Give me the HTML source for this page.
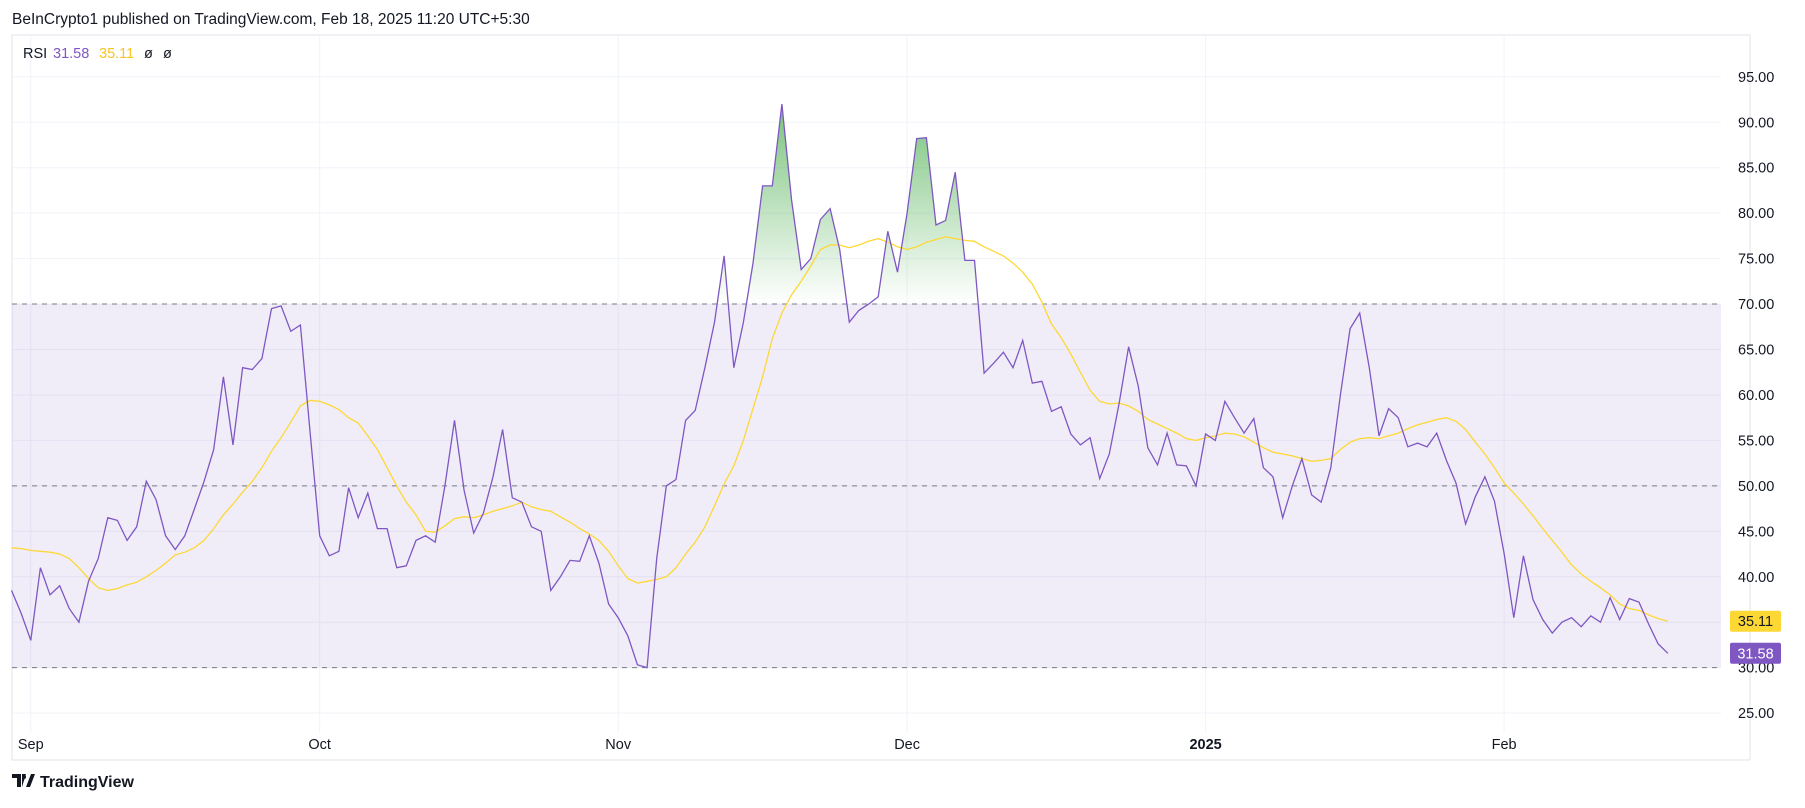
<!DOCTYPE html>
<html><head><meta charset="utf-8"><style>
body{margin:0;background:#fff;width:1805px;height:803px;overflow:hidden;font-family:"Liberation Sans",sans-serif}
svg text{font-family:"Liberation Sans",sans-serif}
</style></head><body>
<svg id="chart" width="1805" height="803">
<text x="12" y="24" font-size="15.5" fill="#131722">BeInCrypto1 published on TradingView.com, Feb 18, 2025 11:20 UTC+5:30</text>
<rect x="12" y="35" width="1738" height="725" fill="none" stroke="#e0e3eb"/>
<g id="grid"></g>
<rect id="band" fill="#7e57c2" fill-opacity="0.11"/>
<g id="bandlines"></g>
<defs>
<linearGradient id="gfill" gradientUnits="userSpaceOnUse" x1="0" x2="0" id2="" ><stop offset="0" stop-color="#4caf50" stop-opacity="0.75"/><stop offset="1" stop-color="#4caf50" stop-opacity="0"/></linearGradient>
<clipPath id="above70"><rect id="cliprect" x="0" y="0" width="1805"/></clipPath>
</defs>
<path id="ob-fill" fill="url(#gfill)" clip-path="url(#above70)"/>
<path id="ma-line" fill="none" stroke="#fdd835" stroke-width="1.3"/>
<path id="rsi-line" fill="none" stroke="#7e57c2" stroke-width="1.3"/>
<g id="yaxis"></g>
<g id="xaxis"></g>
<g font-size="14.5">
<text x="23" y="58" fill="#131722">RSI</text>
<text x="53" y="58" fill="#7e57c2">31.58</text>
<text x="99" y="58" fill="#f7c325">35.11</text>
<text x="144" y="58" fill="#131722">ø</text>
<text x="163" y="58" fill="#131722">ø</text>
</g>
<g id="tags"></g>
<g>
<path d="M12 774h9v13h-4v-9h-5z M22 774h4l-4 13h-0z" fill="#131722"/>
<circle cx="24" cy="777" r="2" fill="#131722"/>
<path d="M26 787l5-13h4l-5 13z" fill="#131722"/>
<text x="40" y="787" font-size="16" font-weight="bold" fill="#131722">TradingView</text>
</g>
</svg>
<script>
const rsiValues=[38.5,36,33,41,38,39,36.5,35,39.5,42,46.5,46.2,44,45.5,50.5,48.5,44.5,43,44.5,47.5,50.5,54,62,54.5,63,62.8,64,69.5,69.8,67,67.7,56,44.5,42.3,42.8,49.8,46.5,49.2,45.3,45.3,41,41.2,44,44.5,43.8,50,57.2,49.5,44.8,47,51,56.2,48.7,48.2,45.5,45,38.5,40,41.8,41.7,44.5,41.5,37,35.5,33.5,30.3,30,42,50,50.7,57.2,58.3,63,68,75.3,63,68,74.5,83,83,92,81.5,73.8,75,79.3,80.5,76,68,69.3,70,70.8,78,73.5,80,88.2,88.3,78.7,79.2,84.5,74.8,74.8,62.4,63.5,64.7,63,66,61.3,61.5,58.2,58.7,55.7,54.5,55.3,50.8,53.5,59,65.3,61,54.2,52.3,55.8,52.3,52.2,50,55.7,55,59.3,57.5,55.8,57.4,52,51,46.5,50,53,49,48.2,52,60,67.3,69,63,55.5,58.5,57.5,54.3,54.7,54.3,55.8,52.8,50.3,45.8,48.8,51,48.3,42.5,35.5,42.3,37.5,35.3,33.8,35,35.5,34.5,35.7,35,37.7,35.3,37.6,37.2,34.8,32.6,31.58];
const maValues=[43.2,43.1,42.9,42.8,42.7,42.5,42,41,39.8,38.8,38.5,38.7,39.1,39.4,40,40.7,41.5,42.4,42.7,43.2,44,45.3,46.8,48,49.3,50.5,52,53.8,55.3,57,58.8,59.4,59.3,58.9,58.4,57.5,56.9,55.5,54,52,50,48.2,46.8,45,44.9,45.6,46.4,46.6,46.5,46.8,47.2,47.5,47.8,48.2,47.7,47.4,47.2,46.6,46,45.3,44.7,44,42.8,41.2,39.8,39.3,39.5,39.7,40,41,42.5,43.8,45.5,47.8,50.2,52.2,55,58.5,62,66.2,69,71,72.5,74.2,76,76.5,76.5,76.2,76.5,76.9,77.2,76.8,76.3,76,76.3,76.8,77.1,77.4,77.2,77,76.9,76.3,75.8,75.3,74.5,73.5,72.2,70.2,67.8,66.3,64.5,62.5,60.5,59.3,59,59.1,58.8,58.2,57.3,56.8,56.3,55.8,55.2,55,55.3,55.5,55.8,55.7,55.4,54.8,54.2,53.7,53.5,53.3,53,52.7,52.8,53,54,54.8,55.2,55.3,55.2,55.5,55.8,56.3,56.7,57,57.3,57.5,57.1,56.2,54.8,53.5,52,50.3,49.2,48,46.7,45.3,44,42.7,41.3,40.3,39.5,38.8,38,37,36.5,36.3,35.8,35.4,35.11];
const yTicks=[95,90,85,80,75,70,65,60,55,50,45,40,35,30,25];
const monthLabels=["Sep","Oct","Nov","Dec","2025","Feb"];
const monthDayIndex=[2,32,63,93,124,155];
const bandLevels=[70,50,30];
const NS="http://www.w3.org/2000/svg";
const X=d=>11.5+d*9.63;
const Y=v=>76.8+(95-v)*9.09;
const PL=12,PR=1721,PB=733;
const grid=document.getElementById('grid');
function mk(tag,attrs,parent){const e=document.createElementNS(NS,tag);for(const k in attrs)e.setAttribute(k,attrs[k]);parent.appendChild(e);return e;}
yTicks.forEach(v=>{
 const l=mk('line',{x1:PL,x2:PR,y1:Y(v),y2:Y(v),stroke:'#f0f3fa'},grid);
 
 
 const t=mk('text',{x:1738,y:Y(v)+5,'font-size':'14.5',fill:'#131722'},document.getElementById('yaxis'));
 t.textContent=v.toFixed(2);
 
 
});
monthDayIndex.forEach((d,i)=>{
 const l=mk('line',{x1:X(d),x2:X(d),y1:35,y2:PB,stroke:'#f0f3fa'},grid);
 
 
 const t=mk('text',{x:X(d),y:749,'font-size':'14.5',fill:'#131722','text-anchor':'middle','font-weight':monthLabels[i]==="2025"?'bold':'normal'},document.getElementById('xaxis'));
 t.textContent=monthLabels[i];
 
 
});
const band=document.getElementById('band');
band.setAttribute('x',PL);band.setAttribute('width',PR-PL);band.setAttribute('y',Y(70));band.setAttribute('height',Y(30)-Y(70));
bandLevels.forEach(v=>{
 const l=mk('line',{x1:PL,x2:PR,y1:Y(v),y2:Y(v),stroke:'#787b86','stroke-dasharray':'5,5'},document.getElementById('bandlines'));
 
 
});
const pts=a=>a.map((v,i)=>(i?'L':'M')+X(i).toFixed(1)+' '+Y(v).toFixed(1)).join('');
document.getElementById('rsi-line').setAttribute('d',pts(rsiValues));
document.getElementById('ma-line').setAttribute('d',pts(maValues));
const n=rsiValues.length-1;
document.getElementById('ob-fill').setAttribute('d',pts(rsiValues)+'L'+X(n)+' '+Y(70)+'L'+X(0)+' '+Y(70)+'Z');
document.getElementById('cliprect').setAttribute('height',Y(70));
const g=document.getElementById('gfill');g.setAttribute('y1',Y(Math.max(...rsiValues)));g.setAttribute('y2',Y(70));
const tags=document.getElementById('tags');
const lastMa=maValues[maValues.length-1],lastR=rsiValues[n];
let yM=Y(lastMa),yR=Y(lastR);if(yR-yM<22)yR=yM+22;
[[yM,'#fdd835','#131722',lastMa,'ma-value-tag'],[yR,'#7e57c2','#fff',lastR,'rsi-value-tag']].forEach(([y,bg,fg,v,name])=>{
 const r=mk('rect',{x:1730,y:y-10.5,width:51,height:21,rx:2,fill:bg},tags);
 
 
 const t=mk('text',{x:1755.5,y:y+5,'font-size':'14.5',fill:fg,'text-anchor':'middle'},tags);
 t.textContent=v.toFixed(2);
 
 
});
</script>
</body></html>
